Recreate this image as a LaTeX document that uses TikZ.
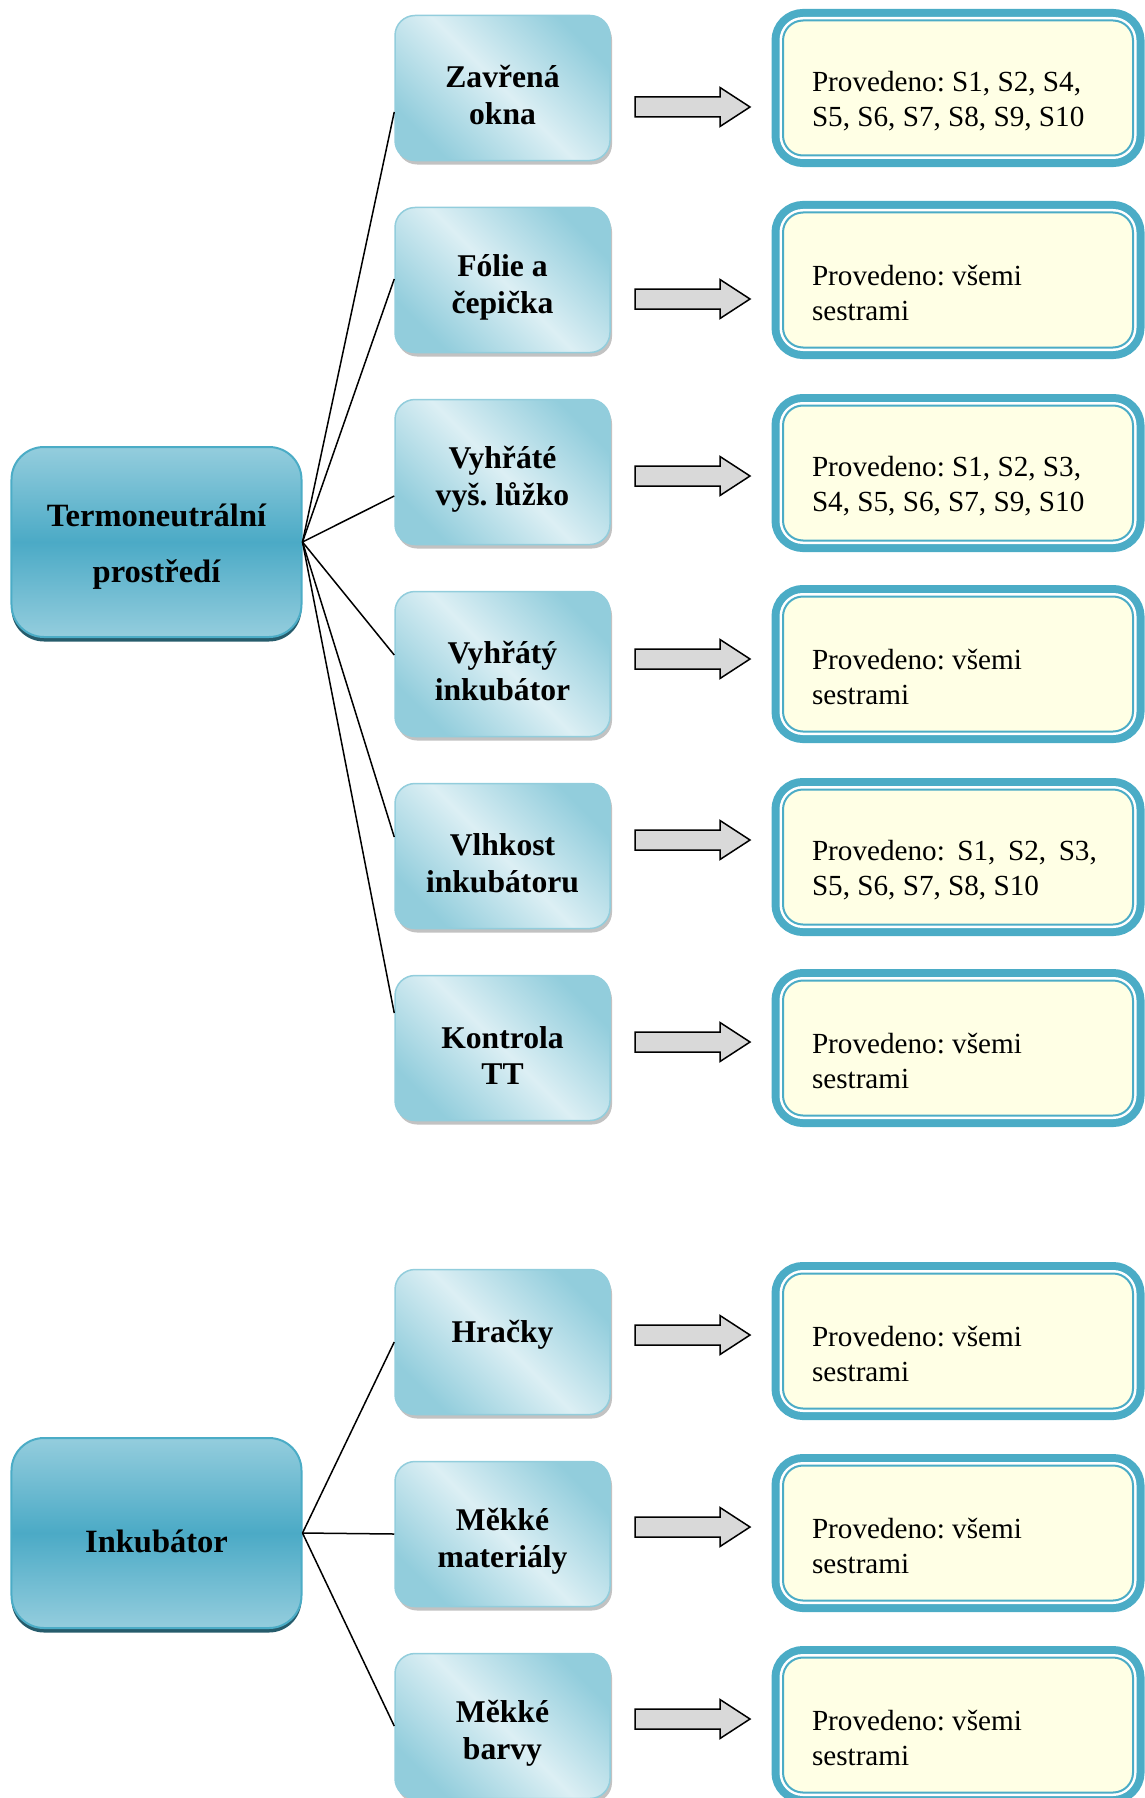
\documentclass[tikz,border=0pt]{standalone}
\usepackage{fontspec}
\setmainfont{Liberation Serif}
\usetikzlibrary{calc,positioning,shadows}
\frenchspacing

\definecolor{rim}{RGB}{75,172,198}
\definecolor{hublight}{RGB}{148,205,221}
\definecolor{hubdark}{RGB}{75,170,198}
\definecolor{hubshadow}{RGB}{38,92,108}
\definecolor{topiclight}{RGB}{220,239,244}
\definecolor{topicdark}{RGB}{146,205,220}
\definecolor{cream}{RGB}{255,255,229}

\tikzset{
  hub/.style={rectangle,rounded corners=6.5mm,draw=rim,line width=0.4mm,
    top color=hublight,bottom color=hublight,middle color=hubdark,
    minimum width=58mm,minimum height=38mm,align=center,
    font=\bfseries\fontsize{18.5}{32}\selectfont,
    drop shadow={shadow xshift=0mm,shadow yshift=-0.9mm,fill=hubshadow,opacity=1}},
  topic/.style={rectangle,rounded corners=4mm,draw=topicdark,line width=0.3mm,
    top color=topicdark,bottom color=topicdark,middle color=topiclight,shading angle=-45,
    minimum width=43mm,minimum height=29mm,inner xsep=1.5mm,text width=40mm,align=flush center,
    font=\bfseries\fontsize{18}{21}\selectfont,
    execute at begin node={\rule{0pt}{21pt}},
    drop shadow={shadow xshift=0.4mm,shadow yshift=-0.8mm,fill=black!40,opacity=0.6}},
  result/.style={rectangle,rounded corners=4mm,draw=rim,line width=0.4mm,fill=cream,
    preaction={draw=rim,line width=4.6mm},preaction={draw=white,line width=1.4mm},
    minimum width=70mm,minimum height=27mm,inner xsep=5.8mm,text width=58.4mm,align=flush left,
    font=\fontsize{16.6}{20}\selectfont,
    execute at begin node={\rule{0pt}{26pt}}},
  link/.style={black,line width=0.3mm},
  blockarrow/.style={draw=black,fill=black!15,line width=0.3mm,line join=miter}
}

% gray block arrow, starting at the middle of its left end
\newcommand{\grayarrow}[1]{%
  \draw[blockarrow] ($(#1)+(0,-10)$) -- ++(85,0) -- ++(0,-9.5) -- ++(30,19.5)
    -- ++(-30,19.5) -- ++(0,-9.5) -- ++(-85,0) -- cycle;}

\begin{document}
\begin{tikzpicture}[x=0.2mm,y=-0.2mm]
  \useasboundingbox (0,0) rectangle (1144,1798);

  % left side
  \node[hub] (termo) at (156.5,542) {\rule{0pt}{18pt}Termoneutrální\\prostředí};
  \node[hub] (inkub) at (156.5,1533) {\rule{0pt}{22pt}Inkubátor};

  % middle column
  \node[topic] (t1) at (502.5,88) {Zavřená\\okna};
  \node[topic] (t2) at (502.5,280) {Fólie a\\čepička};
  \node[topic] (t3) at (502.5,472) {Vyhřáté\\vyš. lůžko};
  \node[topic] (t4) at (502.5,664) {Vyhřátý\\inkubátor};
  \node[topic] (t5) at (502.5,856) {Vlhkost\\inkubátoru};
  \node[topic] (t6) at (502.5,1048) {Kontrola\\TT};
  \node[topic] (i1) at (502.5,1342) {Hračky\\\mbox{}};
  \node[topic] (i2) at (502.5,1534) {Měkké\\materiály};
  \node[topic] (i3) at (502.5,1726) {Měkké\\barvy};

  % right column
  \node[result] (r1) at (958,88) {Provedeno: S1, S2, S4,\\S5, S6, S7, S8, S9, S10};
  \node[result] (r2) at (958,280) {Provedeno: všemi\\sestrami};
  \node[result] (r3) at (958,473) {Provedeno: S1, S2, S3,\\S4, S5, S6, S7, S9, S10};
  \node[result] (r4) at (958,664) {Provedeno: všemi\\sestrami};
  \node[result] (r5) at (958,857) {Provedeno:\hspace{3pt} S1,\hspace{3pt} S2,\hspace{3pt} S3,\\S5, S6, S7, S8, S10};
  \node[result] (r6) at (958,1048) {Provedeno: všemi\\sestrami};
  \node[result] (r7) at (958,1341) {Provedeno: všemi\\sestrami};
  \node[result] (r8) at (958,1533) {Provedeno: všemi\\sestrami};
  \node[result] (r9) at (958,1725) {Provedeno: všemi\\sestrami};

  % links
  \draw[link] (termo.east) -- ($(t1.west)+(0,24)$);
  \draw[link] (termo.east) -- ($(t2.west)+(0,-1)$);
  \draw[link] (termo.east) -- ($(t3.west)+(0,24)$);
  \draw[link] (termo.east) -- ($(t4.west)+(0,-9)$);
  \draw[link] (termo.east) -- ($(t5.west)+(0,-19)$);
  \draw[link] (termo.east) -- ($(t6.west)+(0,-35)$);
  \draw[link] (inkub.east) -- (i1.west);
  \draw[link] (inkub.east) -- (i2.west);
  \draw[link] (inkub.east) -- (i3.west);

  % arrows
  \foreach \ay in {107,299,476,659,840,1042,1335,1527,1719}
    \grayarrow{635,\ay};
\end{tikzpicture}
\end{document}
